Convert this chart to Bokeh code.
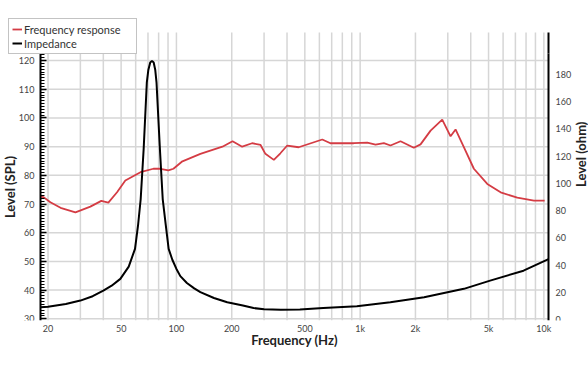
import math
from bokeh.plotting import figure
from bokeh.models import Range1d, LinearAxis, FixedTicker, Legend, LegendItem
from bokeh.embed import file_html
from bokeh.resources import INLINE

# Frequency response (Hz, dB SPL)
freq_fr = [18.2, 18.9, 20.6, 23.4, 28.2, 34.0, 39.0, 42.6, 47.5, 52.7, 63.7, 74.9, 81.8,
           90.4, 96.3, 107.8, 135, 178, 202, 228, 258, 287, 305, 339, 368, 401, 463,
           622, 689, 924, 1093, 1213, 1346, 1463, 1659, 1960, 2132, 2418, 2798, 3106,
           3307, 3669, 4160, 4922, 5815, 7168, 8830, 10100]
spl_fr = [72.6, 72.4, 70.6, 68.7, 67.1, 69.1, 71.1, 70.5, 74.1, 78.2, 81.1, 82.3, 82.3,
          81.7, 82.3, 84.9, 87.5, 90.0, 91.9, 90.0, 91.2, 90.6, 87.5, 85.4, 87.7, 90.4, 89.8,
          92.5, 91.2, 91.2, 91.4, 90.7, 91.2, 90.4, 91.9, 89.6, 90.8, 95.6, 99.4, 93.6,
          96.0, 89.8, 82.3, 77.0, 74.1, 72.2, 71.2, 71.2]

# Impedance (Hz, ohm)
freq_imp = [18.2, 20, 25, 30, 35, 40, 44.4, 49.5, 55, 59.5, 61.9, 63.9, 66.3, 69, 70.3, 72,
            73.6, 75.2, 76.7, 77.9, 81.3, 84.2, 87.4, 90.7, 95, 100, 105, 114, 125, 135, 160,
            189, 230, 263, 300, 370, 470, 630, 960, 1460, 2230, 3670, 5100, 7750, 10600]
ohm_imp = [9.2, 9.6, 11.6, 14.1, 17.3, 21.4, 25, 30, 39, 52, 70, 88.5, 125, 174, 183, 188.5,
           189.7, 188.5, 183, 174, 125, 88.5, 70, 52, 44, 37.3, 32, 27, 23, 20.3, 16,
           12.9, 10.5, 8.6, 7.8, 7.3, 7.5, 8.6, 10, 12.9, 16.6, 22.7, 28.7, 36, 44.5]

x_major = [20, 50, 100, 200, 500, 1000, 2000, 5000, 10000]
x_labels = ["20", "50", "100", "200", "500", "1k", "2k", "5k", "10k"]
x_minor = [30, 40, 60, 70, 80, 90, 300, 400, 600, 700, 800, 900,
           3000, 4000, 6000, 7000, 8000, 9000]
spl_ticks = [30, 40, 50, 60, 70, 80, 90, 100, 110, 120]
spl_minor = list(range(29, 130))
ohm_ticks = [0, 20, 40, 60, 80, 100, 120, 140, 160, 180]

# visible plot box (data units)
X_LO, X_HI = 18.2, 10600
SPL_LO, SPL_HI = 29.4, 129.8
OHM_LO, OHM_HI = -0.5, 210.5

# layout (pixels) of the plot box inside a full-width frame
W, H = 588, 372
BOX_L, BOX_R, BOX_T, BOX_B = 40, 548, 32, 320
AXIS_T = 53  # where the vertical axis lines are centred from (below the legend)

kx = (BOX_R - BOX_L) / math.log10(X_HI / X_LO)
x_start = X_LO * 10 ** (-BOX_L / kx)
x_end = X_HI * 10 ** ((W - BOX_R) / kx)
ky = (BOX_B - BOX_T) / (SPL_HI - SPL_LO)
y_end = SPL_LO + BOX_B / ky
spl_axis_top = SPL_LO + (BOX_B - AXIS_T) / ky
kr = (BOX_B - BOX_T) / (OHM_HI - OHM_LO)
r_end = OHM_LO + BOX_B / kr
ohm_axis_top = OHM_LO + (BOX_B - AXIS_T) / kr

RED = "#d43c44"
GRID = "#d6d6d6"
FONT = "Lato"

p = figure(width=W, height=H, x_axis_type="log",
           x_range=Range1d(x_start, x_end), y_range=Range1d(SPL_LO, y_end),
           output_backend="svg", toolbar_location=None,
           min_border_left=0, min_border_right=0, min_border_top=0,
           min_border_bottom=H - BOX_B)
p.outline_line_color = None
p.extra_y_ranges = {"ohm": Range1d(OHM_LO, r_end)}
p.xgrid.visible = False
p.ygrid.visible = False

# grid lines limited to the plot box
gx = x_major + x_minor
p.segment(x0=gx, y0=[SPL_LO] * len(gx), x1=gx, y1=[SPL_HI] * len(gx),
          line_color=GRID, line_width=1.5, level="underlay")
p.segment(x0=[X_LO] * len(spl_ticks), y0=spl_ticks, x1=[X_HI] * len(spl_ticks), y1=spl_ticks,
          line_color=GRID, line_width=1.5, level="underlay")
# upper part of the right axis line (above the centred axis span)
p.segment(x0=[X_HI], y0=[ohm_axis_top], x1=[X_HI], y1=[OHM_HI], y_range_name="ohm",
          line_color="black", line_width=2, level="guide")

# x axis
xa = p.xaxis[0]
xa.ticker = FixedTicker(ticks=x_major, minor_ticks=x_minor)
xa.major_label_overrides = {k: v for k, v in zip(x_major, x_labels)}
xa.axis_line_color = None
xa.major_tick_line_color = None
xa.minor_tick_line_color = None
xa.major_tick_out = 0
xa.major_tick_in = 0
xa.minor_tick_out = 0
xa.minor_tick_in = 0
xa.axis_label = "Frequency (Hz)"
xa.major_label_standoff = 2
xa.axis_label_standoff = -5

# left axis
ya = p.yaxis[0]
ya.fixed_location = X_LO
ya.bounds = (SPL_LO, spl_axis_top)
ya.ticker = FixedTicker(ticks=spl_ticks, minor_ticks=spl_minor)
ya.axis_label = "Level (SPL)"
ya.axis_line_width = 2
ya.axis_line_color = "black"
ya.major_tick_in = 6
ya.major_tick_out = 0
ya.minor_tick_in = 4
ya.minor_tick_out = 0
ya.major_tick_line_width = 1.5
ya.minor_tick_line_width = 1.2
ya.major_label_standoff = 6
ya.axis_label_standoff = -2

# right axis
ra = LinearAxis(y_range_name="ohm", ticker=FixedTicker(ticks=ohm_ticks),
                axis_label="Level (ohm)", fixed_location=X_HI, bounds=(OHM_LO, ohm_axis_top))
ra.axis_line_width = 2
ra.axis_line_color = "black"
ra.major_tick_in = 0
ra.major_tick_out = 0
ra.minor_tick_in = 0
ra.minor_tick_out = 0
ra.minor_tick_line_color = None
ra.major_tick_line_color = None
ra.major_label_standoff = 7
ra.axis_label_standoff = 7
ra.axis_label_orientation = math.pi / 2
p.add_layout(ra, "right")

for ax in [xa, ya, ra]:
    ax.major_label_text_font = FONT
    ax.major_label_text_font_size = "9px"
    ax.major_label_text_color = "#444444"
    ax.axis_label_text_font = FONT
    ax.axis_label_text_font_style = "bold"
    ax.axis_label_text_font_size = "13px"
    ax.axis_label_text_color = "#222222"

r1 = p.line(freq_fr, spl_fr, line_color=RED, line_width=1.8)
r2 = p.line(freq_imp, ohm_imp, y_range_name="ohm", line_color="black", line_width=2)

legend = Legend(items=[LegendItem(label="Frequency response", renderers=[r1]),
                       LegendItem(label="Impedance", renderers=[r2])],
                location=(8, BOX_B - 54))
legend.label_text_font = FONT
legend.label_text_font_size = "11px"
legend.label_text_color = "#333333"
legend.label_height = 14
legend.glyph_height = 14
legend.glyph_width = 10
legend.label_standoff = 2
legend.label_width = 109
legend.spacing = 0
legend.padding = 3
legend.margin = 0
legend.border_line_color = "#888888"
legend.border_line_width = 1
legend.background_fill_color = "white"
legend.background_fill_alpha = 1.0
p.add_layout(legend)

open("out.html", "w").write(file_html(p, INLINE))
